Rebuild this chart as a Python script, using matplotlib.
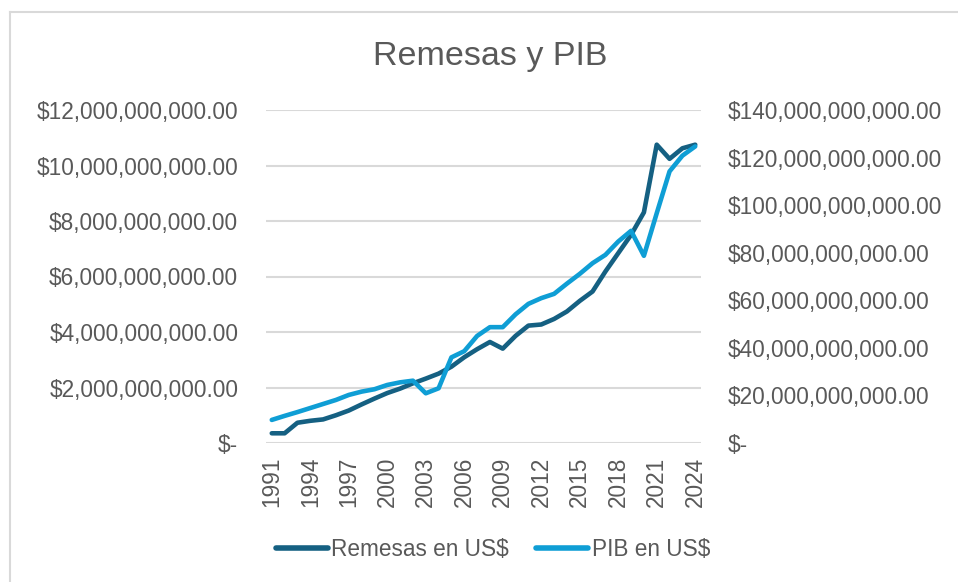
import matplotlib
matplotlib.use("Agg")
import matplotlib.pyplot as plt
from matplotlib.lines import Line2D

years = list(range(1991, 2025))
remesas_b = [0.35, 0.35, 0.73, 0.80, 0.85, 1.00, 1.17, 1.39, 1.60, 1.80,
             1.96, 2.15, 2.32, 2.50, 2.75, 3.09, 3.38, 3.64, 3.40, 3.86,
             4.23, 4.27, 4.47, 4.74, 5.12, 5.46, 6.18, 6.84, 7.50, 8.31,
             10.75, 10.24, 10.62, 10.75]
pib_b = [9.7, 11.4, 13.0, 14.7, 16.4, 18.1, 20.2, 21.6, 22.6, 24.4,
         25.5, 26.2, 20.9, 23.0, 36.0, 38.6, 45.0, 48.7, 48.7, 54.1,
         58.5, 60.9, 62.7, 67.0, 71.1, 75.6, 79.1, 84.7, 89.2, 78.7,
         96.6, 114.2, 120.8, 124.7]
remesas = [v * 1e9 for v in remesas_b]
pib = [v * 1e9 for v in pib_b]
left_ticks = [0, 2e9, 4e9, 6e9, 8e9, 10e9, 12e9]
right_ticks = [0, 20e9, 40e9, 60e9, 80e9, 100e9, 120e9, 140e9]
xtick_years = list(range(1991, 2025, 3))

DARK = "#156082"
LIGHT = "#0F9ED5"
TXT = "#595959"
GRID = "#D9D9D9"
FONT = ["Liberation Sans", "DejaVu Sans"]
FS = 16.3

plt.rcParams["font.family"] = FONT

def money(v):
    if v == 0:
        return "$-"
    return "${:,.2f}".format(v)

fig = plt.figure(figsize=(9.58, 5.82), dpi=100)
ax = fig.add_axes([266/958, 1-443/582, (701-266)/958, (443-110)/582])
ax2 = ax.twinx()

ax.plot(years, remesas, color=DARK, lw=3.3, solid_capstyle="round", solid_joinstyle="round", zorder=3)
ax2.plot(years, pib, color=LIGHT, lw=3.3, solid_capstyle="round", solid_joinstyle="round", zorder=3)

ax.set_xlim(1990.55, 2024.45)
ax.set_ylim(0, 12e9)
ax2.set_ylim(0, 140e9)
ax.set_yticks(left_ticks)
ax.set_yticklabels([money(v) for v in left_ticks])
ax2.set_yticks(right_ticks)
ax2.set_yticklabels([money(v) for v in right_ticks])
ax.set_xticks(xtick_years)
ax.set_xticklabels([str(y) for y in xtick_years], rotation=90)

for a in (ax, ax2):
    for s in a.spines.values():
        s.set_visible(False)
    a.tick_params(length=0, colors=TXT, labelsize=FS)
ax.tick_params(axis="y", pad=20)
ax2.tick_params(axis="y", pad=19)
ax.tick_params(axis="x", pad=10)
ax.grid(axis="y", color=GRID, lw=1.5)
ax.set_axisbelow(True)
ax2.set_zorder(ax.get_zorder() + 1)
ax2.patch.set_visible(False)

fig.text(490/958, 1-56/582, "Remesas y PIB", ha="center", va="center",
         fontsize=24.5, color=TXT)

handles = [Line2D([], [], color=DARK, lw=4, solid_capstyle="round"),
           Line2D([], [], color=LIGHT, lw=4, solid_capstyle="round")]
leg = fig.legend(handles, ["Remesas en US$", "PIB en US$"], loc="center",
                 bbox_to_anchor=(493/958, 1-549/582), ncol=2, frameon=False,
                 fontsize=FS, handlelength=2.3, handletextpad=0.15,
                 columnspacing=1.2)
for t in leg.get_texts():
    t.set_color(TXT)

# chart border (top and left visible in the reference)
fig.add_artist(Line2D([10/958, 1], [1-12/582, 1-12/582], color=GRID, lw=1.5,
                      transform=fig.transFigure))
fig.add_artist(Line2D([10/958, 10/958], [0, 1-12/582], color=GRID, lw=1.5,
                      transform=fig.transFigure))

fig.savefig("out.png", dpi=100)
